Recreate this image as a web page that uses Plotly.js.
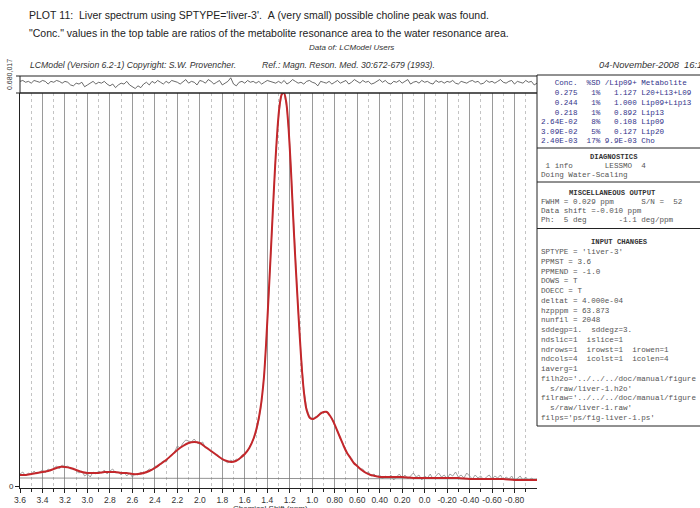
<!DOCTYPE html>
<html><head><meta charset="utf-8">
<script src="https://cdn.plot.ly/plotly-3.0.1.min.js"></script>
<style>html,body{margin:0;padding:0;background:#fff}#chart{width:700px;height:508px}</style>
</head><body><div id="chart"></div>
<script>
// ---------------- data ----------------
const fitPpm = [3.60,3.55,3.50,3.45,3.40,3.35,3.30,3.25,3.20,3.15,3.10,3.05,3.00,2.95,2.90,2.85,2.80,2.75,2.70,2.65,2.60,2.55,2.50,2.45,2.40,2.35,2.30,2.25,2.20,2.15,2.10,2.05,2.00,1.95,1.90,1.85,1.80,1.76,1.72,1.68,1.64,1.60,1.56,1.52,1.49,1.46,1.43,1.41,1.39,1.37,1.35,1.33,1.31,1.29,1.27,1.25,1.23,1.21,1.19,1.17,1.15,1.13,1.11,1.09,1.07,1.05,1.02,0.99,0.96,0.93,0.90,0.87,0.84,0.81,0.78,0.75,0.72,0.69,0.66,0.63,0.60,0.56,0.52,0.48,0.44,0.40,0.35,0.30,0.20,0.10,0.00,-0.10,-0.20,-0.30,-0.40,-0.50,-0.60,-0.70,-0.80,-0.90,-1.00];
const fitVal = [11,11,12,13,14,15,17,19,19,18,16,14,13,13,13,14,14,14,13,13,12,12,13,15,18,22,26,31,36,40,43,44,43,39,35,31,27,25,24,25,28,32,38,48,60,78,108,143,186,230,276,320,356,381,392,393,383,357,318,270,226,186,148,114,90,76,68,67,69,72,74,74,70,64,56,48,40,33,28,23,20,16,13,11,10,9,9,9,9,8,8,8,8,8,7,7,7,7,6,6,6];

// measured spectrum, sampled uniformly from 3.6 ppm down to -1.0 ppm
const dataVal = [12,14,10,13,11,15,12,14,16,13,
 17,15,18,20,17,21,19,20,17,18,
 15,13,15,10,12,9,14,12,15,13,
 16,12,15,17,13,14,11,14,10,13,
 9,12,11,14,12,15,17,16,20,19,
 23,25,24,29,32,34,40,38,43,46,
 45,44,47,43,42,44,38,38,34,33,
 30,29,26,25,23,26,24,27,26,31,
 32,35,41,46,53,66,84,115,162,215,
 272,330,368,391,393,378,342,284,226,176,
 132,97,78,70,67,69,70,74,73,75,
 71,68,60,55,47,42,35,30,28,22,
 21,17,17,13,14,10,12,9,11,7,
 10,8,11,6,9,12,8,11,7,10,
 13,9,11,6,10,8,12,7,10,13,
 9,11,7,12,10,14,9,11,8,13,
 10,7,11,8,10,6,9,11,7,10,
 8,11,6,9,7,10,5,8,10,6,
 9,5,8,6,7];

// residual (data - fit) shown in the top strip, same uniform sampling
const residVal = [12,13,11,12,10,13,12,11,13,12,9,12,11,13,12,10,12,11,8,7,10,9,11,6,8,10,12,9,11,10,
 12,9,7,9,5,8,10,9,12,8,6,4,7,5,9,11,8,12,10,13,11,9,12,10,13,12,11,9,12,14,
 10,12,11,8,13,12,10,14,12,9,11,13,8,10,12,16,9,7,11,12,10,13,11,12,10,12,9,11,13,12,
 11,10,12,10,13,9,11,14,12,10,11,9,12,13,11,10,7,12,11,10,12,9,11,13,10,12,13,9,11,14,
 12,10,13,11,12,9,10,12,14,11,13,10,9,12,11,13,10,12,14,9,11,12,10,13,11,12,10,9,13,11,
 12,10,12,11,13,10,9,12,11,10,12,13,11,12,9,10,13,11,12,10,12,14,11,10,12,13,9,12,11,10,
 13,11,12,8,10];

const baselinePpm = [3.6, -1.0];
const baselineVal = [8, 7];

const tickPpm  = [3.6,3.4,3.2,3.0,2.8,2.6,2.4,2.2,2.0,1.8,1.6,1.4,1.2,1.0,0.8,0.6,0.4,0.2,0.0,-0.2,-0.4,-0.6,-0.8];
const tickText = ["3.6","3.4","3.2","3.0","2.8","2.6","2.4","2.2","2.0","1.8","1.6","1.4","1.2","1.0","0.80","0.60","0.40","0.20","0.0","-0.20","-0.40","-0.60","-0.80"];
const minorPpm = [3.5,3.3,3.1,2.9,2.7,2.5,2.3,2.1,1.9,1.7,1.5,1.3,1.1,0.9,0.7,0.5,0.3,0.1,-0.1,-0.3,-0.5,-0.7,-0.9];

const titleLine1 = "PLOT 11:  Liver spectrum using SPTYPE='liver-3'.  A (very small) possible choline peak was found.";
const titleLine2 = "\"Conc.\" values in the top table are ratios of the metabolite resonance area to the water resonance area.";
const dataOf = "Data of: LCModel Users";
const versionText = "LCModel (Version 6.2-1) Copyright: S.W. Provencher.";
const refText = "Ref.: Magn. Reson. Med. 30:672-679 (1993).";
const dateText = "04-November-2008  16:11";
const xTitle = "Chemical Shift (ppm)";
const residLabel = "0.680,017";

const tableLines = [
 "   Conc.  %SD /Lip09+ Metabolite",
 "   0.275   1%   1.127 L20+L13+L09",
 "   0.244   1%   1.000 Lip09+Lip13",
 "   0.218   1%   0.892 Lip13",
 "2.64E-02   8%   0.108 Lip09",
 "3.09E-02   5%   0.127 Lip20",
 "2.40E-03  17% 9.9E-03 Cho"
];
const diagLines = [" 1 info       LESSMO  4", "Doing Water-Scaling"];
const miscLines = ["FWHM = 0.029 ppm      S/N =  52", "Data shift =-0.010 ppm", "Ph:  5 deg       -1.1 deg/ppm"];
const inputLines = [
 "SPTYPE = 'liver-3'",
 "PPMST = 3.6",
 "PPMEND = -1.0",
 "DOWS = T",
 "DOECC = T",
 "deltat = 4.000e-04",
 "hzpppm = 63.873",
 "nunfil = 2048",
 "sddegp=1.  sddegz=3.",
 "ndslic=1  islice=1",
 "ndrows=1  irowst=1  irowen=1",
 "ndcols=4  icolst=1  icolen=4",
 "iaverg=1",
 "filh2o='../../../doc/manual/figure",
 "  s/raw/liver-1.h2o'",
 "filraw='../../../doc/manual/figure",
 "  s/raw/liver-1.raw'",
 "filps='ps/fig-liver-1.ps'"
];

// ---------------- layout helpers ----------------
const W = 700, H = 508;
const fx = x => x / W, fy = y => 1 - y / H;
const nb = s => s.replace(/ /g, '\u00a0');

function uniformPpm(n) { const a = []; for (let i = 0; i < n; i++) a.push(3.6 - i * 4.6 / (n - 1)); return a; }
const dataPpm = uniformPpm(dataVal.length);
const residPpm = uniformPpm(residVal.length);

const PL = 20, PR = 537, PTOP = 93, PBOT = 488, RTOP = 76;

const annos = [];
function txt(x, y, s, font, extra) {
  annos.push(Object.assign({xref:'paper', yref:'paper', x:fx(x), y:fy(y), text:s, showarrow:false,
    xanchor:'left', yanchor:'middle', font:font}, extra || {}));
}
const sans = (size, color) => ({family:'Liberation Sans, Arial, sans-serif', size:size, color:color || '#222'});
const mono = (size, color) => ({family:'Liberation Mono, Courier New, monospace', size:size, color:color || '#555'});

txt(27, 15, nb(titleLine1), sans(10.5, '#222'));
txt(27, 33, nb(titleLine2), sans(10.5, '#222'));
txt(351, 47, '<i>' + dataOf + '</i>', sans(8, '#333'), {xanchor:'center'});
txt(28, 65, '<i>' + versionText + '</i>', sans(8.7, '#333'));
txt(260, 65, '<i>' + refText + '</i>', sans(8.7, '#333'));
txt(597, 65, '<i>' + nb(dateText) + '</i>', sans(9.3, '#333'));
txt(270, 508, xTitle, sans(8, '#333'), {xanchor:'center'});
txt(10, 75, residLabel, sans(7, '#333'), {xanchor:'center', textangle:-90});

const X0 = 538.5, MS = 7.6;
const tableY = [83, 93, 103, 112.5, 122, 131.5, 141];
tableLines.forEach((s, i) => txt(X0, tableY[i], nb(s), mono(MS, '#33338a')));
txt(614, 157, '<b>DIAGNOSTICS</b>', mono(7.2, '#333'), {xanchor:'center'});
diagLines.forEach((s, i) => txt(X0, 166 + i * 9, nb(s), mono(MS)));
txt(612, 193, '<b>MISCELLANEOUS OUTPUT</b>', mono(7.2, '#333'), {xanchor:'center'});
miscLines.forEach((s, i) => txt(X0, 202 + i * 9, nb(s), mono(MS)));
txt(619, 242, '<b>INPUT CHANGES</b>', mono(7.2, '#333'), {xanchor:'center'});
inputLines.forEach((s, i) => txt(X0, 252 + i * 9.76, nb(s), mono(MS)));

const shapes = [];
function line(x0, y0, x1, y1, w, c) {
  shapes.push({type:'line', xref:'paper', yref:'paper', x0:fx(x0), y0:fy(y0), x1:fx(x1), y1:fy(y1),
    line:{color:c || '#222', width:w || 1}});
}
line(PL, RTOP, PR, RTOP, 1);            // residual box top
line(PL, PTOP, PR, PTOP, 1.6);          // residual box bottom
line(PL, RTOP, PL, PTOP, 1);            // residual left edge
line(PR, 75, PR, 426, 1);               // right panel / residual right edge
line(PR, 75, 700, 75, 1);
line(PR, 148, 700, 148, 1);
line(PR, 182, 700, 182, 1);
line(PR, 228.5, 700, 228.5, 1);
line(PR, 426, 700, 426, 1);
line(PL - 4, RTOP, PL, RTOP, 1);
line(PL - 4, PTOP, PL, PTOP, 1);

const traces = [
  {x: residPpm, y: residVal, xaxis:'x2', yaxis:'y2', type:'scatter', mode:'lines',
   line:{color:'#444', width:0.8}, hoverinfo:'skip'},
  {x: baselinePpm, y: baselineVal, type:'scatter', mode:'lines', line:{color:'#777', width:0.8}, hoverinfo:'skip'},
  {x: dataPpm, y: dataVal, type:'scatter', mode:'lines', line:{color:'#8a8a8a', width:0.8}, hoverinfo:'skip'},
  {x: fitPpm, y: fitVal, type:'scatter', mode:'lines', line:{color:'#c3272b', width:2, shape:'spline', smoothing:0.6}, hoverinfo:'skip'}
];

const layout = {
  width: W, height: H, margin:{l:0, r:0, t:0, b:0}, showlegend:false,
  paper_bgcolor:'#fff', plot_bgcolor:'rgba(0,0,0,0)',
  xaxis: {domain:[fx(PL), fx(PR)], range:[3.6, -1.0], anchor:'y', showline:true, linecolor:'#222', linewidth:1,
    tickmode:'array', tickvals:tickPpm, ticktext:tickText, ticks:'outside', ticklen:4, tickcolor:'#222',
    tickfont:sans(8.5, '#333'), showgrid:true, gridcolor:'#9a9a9a', gridwidth:1, zeroline:false,
    minor:{tickmode:'array', tickvals:minorPpm, ticks:'outside', ticklen:3, tickcolor:'#222', showgrid:true,
      gridcolor:'#c4c4c4', griddash:'dot', gridwidth:1}},
  yaxis: {domain:[fy(PBOT), fy(PTOP)], range:[-2, 393], anchor:'x', showline:true, linecolor:'#222', linewidth:1,
    tickmode:'array', tickvals:[0], ticktext:['0'], ticks:'outside', ticklen:4, tickcolor:'#222',
    tickfont:sans(8, '#333'), showgrid:false, zeroline:false},
  xaxis2: {domain:[fx(PL), fx(PR)], range:[3.6, -1.0], anchor:'y2', visible:false},
  yaxis2: {domain:[fy(PTOP), fy(RTOP)], range:[-1, 18], anchor:'x2', visible:false},
  shapes: shapes, annotations: annos
};

Plotly.newPlot('chart', traces, layout, {staticPlot:true, displayModeBar:false});
</script></body></html>
